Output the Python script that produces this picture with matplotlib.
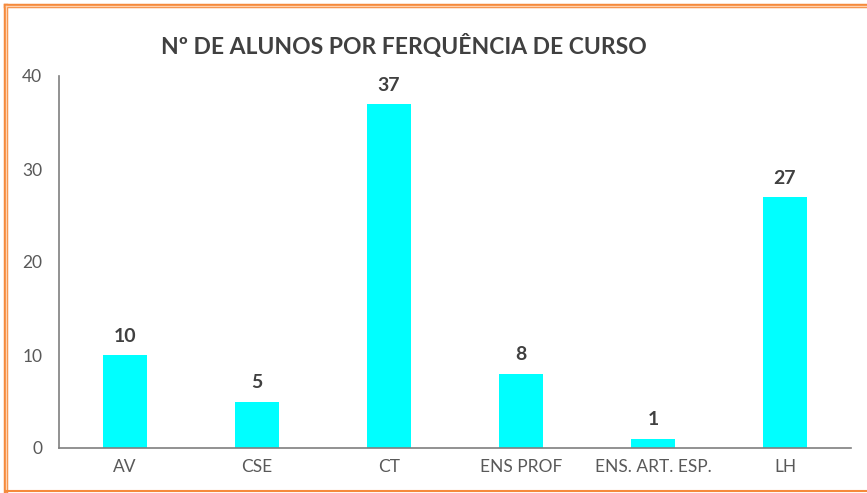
import matplotlib
matplotlib.use("Agg")
import matplotlib.pyplot as plt
from matplotlib.lines import Line2D

categories = ["AV", "CSE", "CT", "ENS PROF", "ENS. ART. ESP.", "LH"]
values = [10, 5, 37, 8, 1, 27]
yticks = [0, 10, 20, 30, 40]
title = "Nº DE ALUNOS POR FERQUÊNCIA DE CURSO"

plt.rcParams['font.family'] = ['Lato', 'DejaVu Sans']

W, H = 867, 493
fig = plt.figure(figsize=(W / 100, H / 100), dpi=100)
ax = fig.add_axes([59 / W, 1 - 448 / H, (851 - 59) / W, (448 - 76) / H])

x = range(len(categories))
ax.bar(x, values, width=0.33, color="#00FFFF", zorder=2)
for xi, v in zip(x, values):
    ax.text(xi, v + 1.1, str(v), ha="center", va="bottom", fontsize=14,
            fontweight="bold", color="#404040")

ax.set_xlim(-0.5, len(categories) - 0.5)
ax.set_ylim(0, 40)
ax.set_yticks(yticks)
ax.set_xticks(list(x))
ax.set_xticklabels(categories)
ax.tick_params(axis="both", length=0, labelsize=12.5, labelcolor="#595959")
ax.tick_params(axis="y", pad=12)
ax.tick_params(axis="x", pad=8)
for s in ["top", "right"]:
    ax.spines[s].set_visible(False)
for s in ["left", "bottom"]:
    ax.spines[s].set_color("#7f7f7f")
    ax.spines[s].set_linewidth(1.2)
    ax.spines[s].set_zorder(3)

fig.text(404 / W, 1 - 46 / H, title, ha="center", va="center", fontsize=16.5,
         fontweight="bold", color="#404040")

# orange double border
def fx(px):
    return px / W
def fy(py):
    return 1 - py / H
for lw, col in [(3.2, "#F58A3C"), (1.0, "#FFD2B0")]:
    fig.add_artist(Line2D([fx(6), fx(6)], [fy(6), fy(491)], lw=lw, color=col))
    fig.add_artist(Line2D([fx(6), fx(880)], [fy(6), fy(6)], lw=lw, color=col))
fig.add_artist(Line2D([fx(6), fx(880)], [fy(491), fy(491)], lw=1.5, color="#F58A3C"))

fig.savefig("out.png", dpi=100)
